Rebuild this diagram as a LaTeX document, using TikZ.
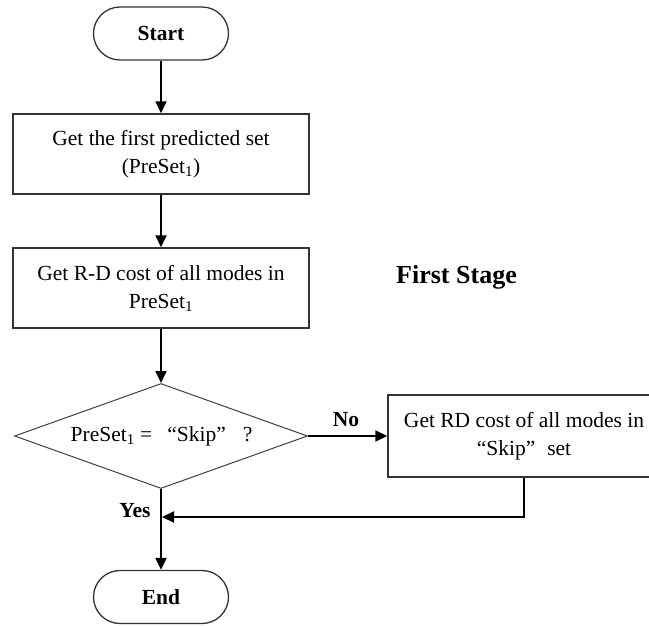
\documentclass[tikz,border=0pt]{standalone}
\usepackage{fontspec}
\setmainfont{Liberation Serif}
\usetikzlibrary{shapes.geometric,arrows.meta}
\tikzset{
  base/.style={font=\fontsize{21.5}{28}\selectfont, align=center, inner sep=0pt},
  term/.style={base, draw=black!80, line width=1.3pt, rectangle, rounded corners=26.5pt,
    minimum width=135pt, minimum height=53pt, font=\fontsize{21.5}{28}\selectfont\bfseries},
  procbox/.style={base, draw=black!80, line width=1.5pt, rectangle},
  decision/.style={base, draw=black!75, line width=1pt, diamond, shape aspect=2.79,
    minimum width=293pt, minimum height=105pt},
  flow/.style={line width=2pt, -{Triangle[length=12pt,width=11pt]}},
  lbl/.style={font=\fontsize{21.5}{28}\selectfont\bfseries, inner sep=0pt}
}
\begin{document}
\begin{tikzpicture}[x=1pt,y=-1pt]
\useasboundingbox (0,0) rectangle (649,625);
\node[term] (start) at (161,33.5) {Start};
\node[procbox, minimum width=296pt, minimum height=80pt] (box1) at (161,154)
  {Get the first predicted set\\(PreSet\textsubscript{1})};
\node[procbox, minimum width=296pt, minimum height=80pt] (box2) at (161,288)
  {Get R-D cost of all modes in\\PreSet\textsubscript{1}};
\node[decision] (dia) at (161,436) {};
\node[base] (diatext) at (161.5,436.5) {PreSet\textsubscript{1} =\hspace{15pt}“Skip”\hspace{17pt}?};
\node[procbox, minimum width=272pt, minimum height=82pt] (box3) at (524,436)
  {Get RD cost of all modes in\\“Skip”\hspace{12pt}set};
\node[term] (end) at (161,597) {End};
\node[lbl, font=\fontsize{26}{30}\selectfont\bfseries] (stage) at (456.5,277) {First Stage};
\node[lbl] (no) at (346,420) {No};
\node[lbl] (yes) at (135,511) {Yes};
\coordinate (turn) at (box3.south |- 0,517);
\coordinate (join) at (dia.south |- 0,517);
\draw[flow] (start) -- (box1);
\draw[flow] (box1) -- (box2);
\draw[flow] (box2) -- (dia);
\draw[flow] (dia.east) -- (dia.east -| box3.west);
\draw[flow] (dia.south) -- (end.north);
\draw[flow] (box3.south) -- (turn) -- ([xshift=1pt]join);
\end{tikzpicture}
\end{document}
